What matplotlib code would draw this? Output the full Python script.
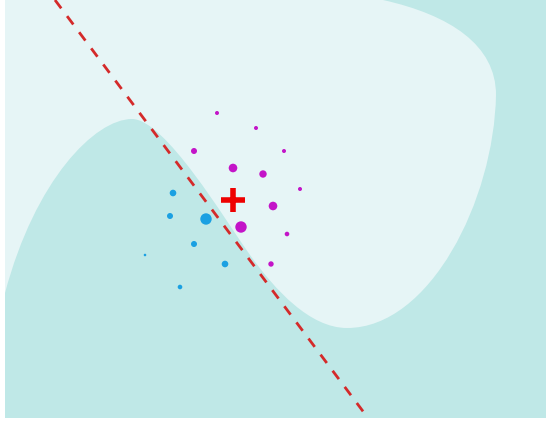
import numpy as np
import matplotlib
matplotlib.use("Agg")
import matplotlib.pyplot as plt
from matplotlib.path import Path
from matplotlib.patches import PathPatch

# sampled points around the instance (pixel-style coords, y down)
pos_x = [217, 256, 194, 284, 233, 263, 300, 273, 241, 287, 271]
pos_y = [113, 128, 151, 151, 168, 174, 189, 206, 227, 234, 264]
pos_r = [2.0, 2.0, 3.0, 2.0, 4.3, 3.7, 2.0, 4.3, 5.7, 2.3, 2.7]

neg_x = [173, 170, 206, 194, 145, 225, 180]
neg_y = [193, 216, 219, 244, 255, 264, 287]
neg_r = [3.3, 3.0, 5.7, 3.0, 1.3, 3.3, 2.3]

inst_x, inst_y = 233, 200

# local linear explanation
line_x = [55, 368]
line_y = [0, 418]

# outline of the light decision region (bezier segments)
blob_verts = [
    (0, -5), (383, -5), (383, 0),
    (450, 15), (496, 45), (496, 95),
    (494, 200), (430, 328), (347, 328),
    (310, 328), (275, 290), (250, 255),
    (225, 220), (165, 119), (132, 119),
    (95, 119), (35, 180), (5, 293),
    (0, 293), (0, -5),
]
blob_codes = ([Path.MOVETO, Path.LINETO, Path.LINETO]
              + [Path.CURVE4] * 15
              + [Path.LINETO, Path.CLOSEPOLY])

plt.rcParams['lines.scale_dashes'] = False

fig = plt.figure(figsize=(5.46, 4.24), dpi=100)
ax = fig.add_axes([5 / 546, 6 / 424, 541 / 546, 418 / 424])
ax.set_facecolor('#bfe8e7')

ax.add_patch(PathPatch(Path(blob_verts, blob_codes), facecolor='#e6f5f6',
                       edgecolor='none', zorder=1))

ax.plot(line_x, line_y, color='#d42a2a', lw=2.0, dashes=(7.5, 7), zorder=2)

ax.scatter(pos_x, pos_y, s=(1.44 * np.array(pos_r)) ** 2, color='#c314c8',
           edgecolors='none', zorder=3)
ax.scatter(neg_x, neg_y, s=(1.44 * np.array(neg_r)) ** 2, color='#1aa0e2',
           edgecolors='none', zorder=3)

ax.plot(inst_x, inst_y, marker='+', ms=17, mew=4, color='#ee0000', zorder=4)

ax.set_xlim(5, 546)
ax.set_ylim(418, 0)
ax.set_xticks([])
ax.set_yticks([])
for sp in ax.spines.values():
    sp.set_visible(False)

fig.savefig('out.png', dpi=100)
